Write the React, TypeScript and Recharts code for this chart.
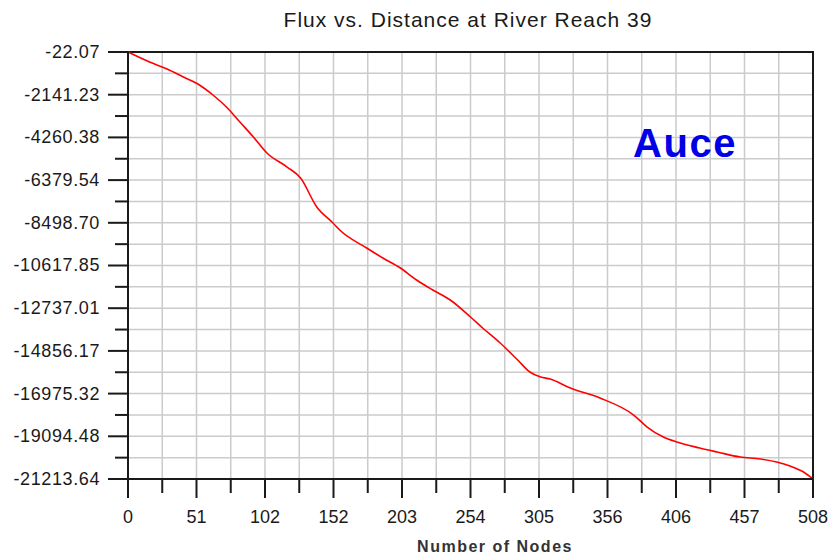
import React from 'react'
import { LineChart, Line, XAxis, YAxis, CartesianGrid, ReferenceArea } from 'recharts'

const nodes = [
  0, 16, 29, 41, 53, 63, 73, 83, 93, 103, 118, 128, 140, 152, 157, 177, 189, 202, 214, 226, 239, 254,
  263, 276, 289, 298, 306, 313, 328, 350, 375, 385, 397, 407, 424, 437, 454, 469, 481, 491, 501, 508,
]
const flux = [
  -22.07, -518, -866, -1263, -1660, -2156, -2752, -3496, -4241, -5035, -5730, -6275, -7715, -8509, -8856,
  -9750, -10246, -10742, -11338, -11834, -12330, -13174, -13720, -14464, -15308, -15903, -16152, -16251,
  -16698, -17194, -18038, -18634, -19130, -19378, -19676, -19875, -20123, -20222, -20371, -20570, -20868,
  -21213.64,
]

const xTickLabels = ['0', '51', '102', '152', '203', '254', '305', '356', '406', '457', '508']
const xTicks = [
  0, 25.4, 50.8, 76.2, 101.6, 127, 152.4, 177.8, 203.2, 228.6, 254, 279.4, 304.8, 330.2, 355.6, 381, 406.4,
  431.8, 457.2, 482.6, 508,
]
const yTickLabels = [
  '-22.07', '-2141.23', '-4260.38', '-6379.54', '-8498.70', '-10617.85', '-12737.01', '-14856.17',
  '-16975.32', '-19094.48', '-21213.64',
]

// major ticks plus a minor tick halfway between each pair
const yMajor = yTickLabels.map(Number)
const yTicks: number[] = []
yMajor.forEach((v, i) => {
  yTicks.push(v)
  if (i < yMajor.length - 1) yTicks.push((v + yMajor[i + 1]) / 2)
})

const data = nodes.map((n, i) => ({ node: n, flux: flux[i] }))

const FONT = '"Liberation Sans", Arial, sans-serif'
const INK = '#1a1a1a'

const YTick = (props: any) => {
  const { x, y, index } = props
  const major = index % 2 === 0
  return (
    <g>
      <line x1={x - (major ? 20 : 13)} x2={x} y1={y} y2={y} stroke={INK} strokeWidth={2} />
      {major && (
        <text
          x={x - 28}
          y={y}
          textAnchor="end"
          dominantBaseline="central"
          fontFamily={FONT}
          fontSize={18}
          letterSpacing={0.6}
          fill={INK}
        >
          {yTickLabels[index / 2]}
        </text>
      )}
    </g>
  )
}

const XTick = (props: any) => {
  const { x, y, index } = props
  const major = index % 2 === 0
  return (
    <g>
      <line x1={x} x2={x} y1={y} y2={y + (major ? 19 : 14)} stroke={INK} strokeWidth={2} />
      {major && (
        <text
          x={x}
          y={y + 38}
          textAnchor="middle"
          dominantBaseline="central"
          fontFamily={FONT}
          fontSize={18}
          fill={INK}
        >
          {xTickLabels[index / 2]}
        </text>
      )}
    </g>
  )
}

export default function App() {
  return (
    <div style={{ position: 'absolute', left: 0, top: 0, width: 831, height: 558, background: '#fff' }}>
      <LineChart width={831} height={558} data={data} margin={{ top: 52, right: 18, left: 0, bottom: 0 }}>
        <CartesianGrid stroke="#cbcbcb" strokeWidth={1.5} />
        <XAxis
          dataKey="node"
          type="number"
          domain={[0, 508]}
          ticks={xTicks}
          interval={0}
          height={79}
          tickSize={0}
          tickMargin={0}
          tick={<XTick />}
          axisLine={{ stroke: INK, strokeWidth: 2 }}
        />
        <YAxis
          type="number"
          domain={[-21213.64, -22.07]}
          ticks={yTicks}
          interval={0}
          width={128}
          tickSize={0}
          tickMargin={0}
          tick={<YTick />}
          axisLine={{ stroke: INK, strokeWidth: 2 }}
        />
        <ReferenceArea
          x1={0}
          x2={508}
          y1={-21213.64}
          y2={-22.07}
          fill="none"
          fillOpacity={0}
          stroke={INK}
          strokeWidth={2}
          ifOverflow="visible"
        />
        <Line
          type="monotone"
          dataKey="flux"
          stroke="#ff0000"
          strokeWidth={1.6}
          dot={false}
          isAnimationActive={false}
        />
      </LineChart>
      <div
        style={{
          position: 'absolute',
          left: 468,
          top: 20,
          transform: 'translate(-50%, -50%)',
          whiteSpace: 'nowrap',
          fontFamily: FONT,
          fontSize: 21,
          letterSpacing: 1,
          color: INK,
        }}
      >
        Flux vs. Distance at River Reach 39
      </div>
      <div
        style={{
          position: 'absolute',
          left: 495,
          top: 547,
          transform: 'translate(-50%, -50%)',
          whiteSpace: 'nowrap',
          fontFamily: FONT,
          fontSize: 16,
          fontWeight: 'bold',
          letterSpacing: 1.5,
          color: '#333',
        }}
      >
        Number of Nodes
      </div>
      <div
        style={{
          position: 'absolute',
          left: 685,
          top: 143,
          transform: 'translate(-50%, -50%)',
          whiteSpace: 'nowrap',
          fontFamily: FONT,
          fontSize: 40,
          fontWeight: 'bold',
          letterSpacing: 1.5,
          color: '#0000e6',
        }}
      >
        Auce
      </div>
    </div>
  )
}
